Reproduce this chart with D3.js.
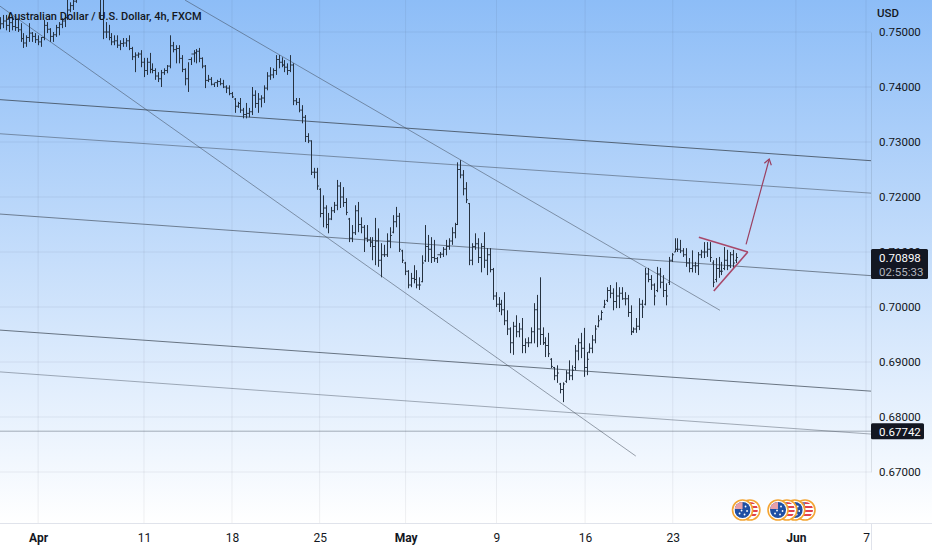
<!DOCTYPE html>
<html><head><meta charset="utf-8">
<style>html,body{margin:0;padding:0;background:#fff;overflow:hidden}svg{display:block}text{font-family:Roboto,"Open Sans",sans-serif}</style>
<script src="https://cdn.jsdelivr.net/npm/d3@7/dist/d3.min.js"></script></head>
<body><script>
// prices are in 1/10000 of a US dollar; bars are 4h slots
const barHigh=[
7527,7531,7531,7534,7527,7525,7522,7516,7498,7494,
7516,7500,7498,7494,7491,7522,7518,7507,7500,7513,
7518,7525,7531,7567,7554,7563,7572,7580,7591,7598,
7594,7587,7583,7576,7572,7562,7518,7513,7498,7494,
7494,7485,7489,7489,7494,7473,7463,7463,7467,7453,
7453,7462,7443,7434,7427,7431,7434,7440,7494,7482,
7476,7476,7458,7434,7445,7454,7467,7469,7471,7454,
7440,7422,7418,7407,7413,7416,7413,7403,7403,7391,
7380,7373,7380,7362,7371,7362,7400,7394,7389,7385,
7403,7427,7436,7434,7458,7458,7454,7449,7443,7458,
7443,7380,7380,7367,7349,7316,7303,7253,7253,7216,
7203,7185,7171,7182,7191,7231,7227,7218,7198,7162,
7149,7185,7191,7163,7149,7149,7127,7127,7162,7143,
7116,7113,7134,7145,7167,7182,7171,7104,7082,7067,
7062,7076,7067,7054,7094,7149,7131,7127,7122,7091,
7100,7109,7122,7125,7145,7153,7263,7267,7249,7227,
7189,7116,7134,7125,7116,7136,7107,7107,7071,7027,
7018,7013,7027,6994,6963,6973,6985,6971,6980,6943,
6945,6963,7007,7022,7054,6963,6945,6953,6907,6891,
6894,6862,6863,6885,6903,6894,6931,6943,6953,6962,
6918,6934,6949,6967,6985,6994,7013,7036,7040,7034,
7045,7036,7036,7027,7022,7003,6963,6980,7016,7013,
7071,7071,7058,7043,7073,7071,7058,7043,7091,7098,
7125,7125,7122,7107,7107,7089,7103,7082,7100,7104,
7118,7118,7118,7085,7089,7091,7082,7109,7104,7100,
7104,7098];
const barLow=[
7505,7507,7503,7500,7503,7502,7500,7482,7471,7473,
7482,7482,7480,7476,7473,7485,7498,7482,7482,7491,
7494,7507,7509,7522,7536,7540,7553,7562,7569,7576,
7573,7567,7563,7562,7522,7487,7489,7485,7476,7476,
7471,7467,7473,7473,7467,7449,7427,7453,7436,7418,
7422,7425,7425,7413,7409,7400,7422,7425,7434,7463,
7443,7443,7427,7403,7391,7440,7445,7443,7445,7434,
7398,7409,7403,7400,7400,7403,7398,7389,7385,7380,
7353,7362,7353,7343,7343,7345,7349,7362,7353,7363,
7371,7394,7413,7416,7422,7434,7436,7427,7422,7427,
7367,7367,7354,7334,7300,7298,7240,7234,7213,7163,
7145,7143,7134,7158,7171,7176,7180,7182,7167,7118,
7118,7131,7136,7134,7100,7118,7109,7085,7076,7073,
7054,7091,7091,7107,7134,7145,7100,7080,7058,7034,
7036,7043,7034,7031,7045,7082,7082,7080,7082,7080,
7089,7091,7094,7104,7113,7125,7149,7234,7203,7189,
7076,7076,7104,7080,7063,7071,7058,7063,7013,7000,
6991,6985,6967,6949,6916,6913,6945,6945,6916,6916,
6927,6934,6934,6927,6931,6931,6909,6909,6889,6867,
6862,6843,6827,6862,6867,6867,6885,6903,6907,6873,
6876,6916,6916,6934,6963,6976,6998,7009,7016,6994,
6998,6998,7013,7003,6982,6949,6953,6953,6958,6980,
7003,7045,7031,7003,7027,7034,7018,7003,7040,7082,
7100,7100,7098,7091,7073,7063,7063,7062,7058,7089,
7089,7091,7082,7036,7045,7053,7058,7067,7067,7071,
7071,7080];
const barOpen=[
7510,7515,7520,7512,7517,7510,7508,7504,7488,7480,
7490,7498,7492,7486,7482,7490,7512,7505,7492,7495,
7508,7514,7520,7526,7540,7548,7556,7565,7575,7585,
7582,7578,7572,7568,7568,7530,7500,7500,7490,7482,
7484,7476,7479,7480,7484,7470,7455,7458,7460,7445,
7430,7445,7432,7430,7420,7415,7426,7430,7438,7475,
7468,7470,7452,7432,7415,7450,7460,7462,7465,7452,
7438,7412,7414,7405,7408,7410,7406,7400,7398,7388,
7378,7365,7370,7358,7350,7352,7355,7385,7370,7378,
7380,7398,7420,7422,7430,7450,7445,7440,7436,7430,
7440,7375,7372,7358,7345,7310,7302,7245,7245,7214,
7170,7180,7150,7160,7175,7185,7220,7200,7190,7160,
7125,7135,7175,7150,7145,7125,7122,7118,7110,7120,
7085,7095,7095,7120,7136,7155,7165,7102,7080,7065,
7040,7052,7050,7040,7046,7084,7110,7105,7090,7088,
7095,7096,7105,7110,7120,7135,7150,7250,7240,7215,
7188,7085,7110,7115,7090,7110,7085,7095,7068,7020,
7005,7005,6995,6975,6960,6935,6965,6955,6960,6930,
6935,6935,6955,6995,6960,6950,6935,6930,6905,6890,
6875,6860,6850,6865,6880,6875,6890,6920,6935,6925,
6890,6918,6925,6940,6965,6978,7000,7012,7030,7025,
7010,7020,7025,7015,7015,6990,6955,6960,6965,7005,
7005,7060,7050,7040,7030,7060,7045,7030,7045,7085,
7100,7105,7105,7102,7095,7080,7070,7075,7075,7095,
7100,7100,7105,7080,7050,7070,7065,7070,7085,7075,
7095,7085];
const barClose=[
7515,7520,7512,7517,7510,7508,7504,7488,7480,7490,
7498,7492,7486,7482,7490,7512,7505,7492,7495,7508,
7514,7520,7526,7540,7548,7556,7565,7575,7585,7582,
7578,7572,7568,7568,7530,7500,7500,7490,7482,7484,
7476,7479,7480,7484,7470,7455,7458,7460,7445,7430,
7445,7432,7430,7420,7415,7426,7430,7438,7475,7468,
7470,7452,7432,7415,7450,7460,7462,7465,7452,7438,
7412,7414,7405,7408,7410,7406,7400,7398,7388,7382,
7365,7370,7358,7350,7352,7355,7385,7370,7378,7380,
7398,7420,7422,7430,7450,7445,7440,7436,7430,7440,
7375,7372,7358,7345,7310,7302,7245,7245,7220,7170,
7180,7150,7160,7175,7185,7220,7200,7190,7172,7125,
7135,7175,7150,7145,7125,7122,7118,7110,7120,7085,
7095,7095,7120,7130,7155,7165,7105,7085,7065,7040,
7052,7050,7040,7040,7080,7110,7105,7090,7088,7095,
7096,7105,7110,7120,7135,7150,7250,7240,7215,7195,
7085,7110,7115,7090,7110,7085,7095,7068,7020,7005,
7005,6995,6975,6960,6935,6965,6955,6960,6930,6935,
6935,6955,6995,6960,6950,6935,6930,6915,6892,6875,
6880,6850,6860,6880,6875,6885,6920,6935,6925,6890,
6905,6925,6940,6960,6975,6990,7005,7030,7025,7010,
7020,7025,7015,7015,6990,6955,6960,6965,7005,7000,
7060,7050,7040,7020,7060,7045,7030,7020,7085,7095,
7105,7105,7102,7095,7080,7070,7075,7075,7095,7100,
7100,7105,7090,7045,7070,7065,7065,7085,7075,7095,
7080,7090];

const priceTicks=[0.75,0.74,0.73,0.72,0.71,0.70,0.69,0.68,0.67];
const timeTicks=[13,49.1,79.1,109,138.3,169.3,199.5,229.4,271.4,295.3];
const timeLabels=["Apr","11","18","25","May","9","16","23","Jun","7"];
const boldTimeLabels=["Apr","May","Jun"];

// trend lines: [slot, price, slot, price]
const channelLines=[
 [0,7377,297,7266],
 [0,7315,297,7207],
 [0,7169,297,7057],
 [0,6958,297,6847],
 [0,6882,297,6769],
 [0,6774.2,297,6774.2],
 [0,7547,216.8,6729],
 [63.1,7558,245.5,6994]];
const channelOpacity=[.78,.5,.62,.72,.42,.42,.5,.5];
const triangleTop=[[238.3,7127],[255,7100]];
const triangleBottom=[[243.4,7029],[255,7100]];
const arrowPath=[[254.4,7114],[262.3,7269]];

const eventSlots=[253.2,255.7,265.3,268.3,271,274.5];
const eventKinds=["AU","US","AU","US","AU","US"];

const lastPrice=0.70898, lastLabel="0.70898", countdown="02:55:33";
const levelPrice=0.67742, levelLabel="0.67742";
const titleText="Australian Dollar / U.S. Dollar, 4h, FXCM";

const W=932,H=550,plotR=871,plotB=523;
const x=d3.scaleLinear().domain([0,297]).range([0,871]);
const y=d3.scaleLinear().domain([0.75,0.67]).range([32,472]);
const py=v=>y(v/10000);

const svg=d3.select("body").append("svg").attr("width",W).attr("height",H);
const defs=svg.append("defs");
const g=defs.append("linearGradient").attr("id","bg").attr("x1",0).attr("y1",0).attr("x2",0).attr("y2",1);
g.append("stop").attr("offset","0%").attr("stop-color","#8dbdf7");
g.append("stop").attr("offset","100%").attr("stop-color","#ffffff");
defs.append("clipPath").attr("id","plot").append("rect").attr("width",plotR).attr("height",plotB);

svg.append("rect").attr("width",W).attr("height",H).attr("fill","#fff");
svg.append("rect").attr("width",W).attr("height",plotB).attr("fill","url(#bg)");

// grid
const grid=svg.append("g");
grid.selectAll("line.h").data(priceTicks).join("line").attr("class","h")
 .attr("x1",0).attr("x2",plotR).attr("y1",d=>y(d)).attr("y2",d=>y(d))
 .attr("stroke","#2a2e39").attr("stroke-opacity",.07);
grid.selectAll("line.v").data(timeTicks).join("line").attr("class","v")
 .attr("y1",0).attr("y2",plotB).attr("x1",d=>x(d)).attr("x2",d=>x(d))
 .attr("stroke","#2a2e39").attr("stroke-opacity",.07);

const plot=svg.append("g").attr("clip-path","url(#plot)");

// channels
plot.selectAll("line.ch").data(channelLines).join("line").attr("class","ch")
 .attr("x1",d=>x(d[0])).attr("y1",d=>py(d[1])).attr("x2",d=>x(d[2])).attr("y2",d=>py(d[3]))
 .attr("stroke","#3b4653").attr("stroke-width",1).attr("stroke-opacity",(d,i)=>channelOpacity[i]);

// OHLC bars
const barGroup=plot.append("g").attr("stroke","#263240").attr("stroke-width",1);
const bars=barGroup.selectAll("g").data(barHigh.map((h,i)=>i)).join("g");
const cx=i=>Math.round(x(i))+.5;
bars.append("line").attr("x1",cx).attr("x2",cx).attr("y1",i=>py(barHigh[i])).attr("y2",i=>py(barLow[i]));
bars.append("line").attr("x1",i=>cx(i)-1.4).attr("x2",cx).attr("y1",i=>py(barOpen[i])).attr("y2",i=>py(barOpen[i]));
bars.append("line").attr("x1",cx).attr("x2",i=>cx(i)+1.4).attr("y1",i=>py(barClose[i])).attr("y2",i=>py(barClose[i]));

// drawn pattern
const lineGen=d3.line().x(d=>x(d[0])).y(d=>py(d[1]));
const maroon="#a8486a";
[triangleTop,triangleBottom].forEach(p=>plot.append("path").attr("d",lineGen(p)).attr("fill","none").attr("stroke",maroon).attr("stroke-width",1.6));
plot.append("path").attr("d",lineGen(arrowPath)).attr("fill","none").attr("stroke","#9a3f60").attr("stroke-width",1.2);
{
 const [a,b]=arrowPath, ax=x(a[0]),ay=py(a[1]),bx=x(b[0]),by=py(b[1]);
 const ang=Math.atan2(by-ay,bx-ax), s=6.5;
 const hp=[[bx+s*Math.cos(ang+2.55),by+s*Math.sin(ang+2.55)],[bx,by],[bx+s*Math.cos(ang-2.55),by+s*Math.sin(ang-2.55)]];
 plot.append("path").attr("d",d3.line()(hp)).attr("fill","none").attr("stroke","#9a3f60").attr("stroke-width",1.2);
}

// axes
const font="Roboto,'Open Sans',sans-serif";
const yAxis=d3.axisRight(y).tickValues(priceTicks).tickSize(0).tickPadding(8).tickFormat(d3.format(".5f"));
const ya=svg.append("g").attr("transform",`translate(${plotR},0)`).call(yAxis);
ya.select(".domain").attr("stroke","#2a2e39").attr("stroke-opacity",.12);
ya.selectAll("text").attr("fill","#131722").attr("font-size",11.5).attr("font-family",font);

const xAxis=d3.axisBottom(x).tickValues(timeTicks).tickSize(0).tickPadding(10).tickFormat((d,i)=>timeLabels[i]);
const xa=svg.append("g").attr("transform",`translate(0,${plotB})`).call(xAxis);
xa.select(".domain").remove();
xa.selectAll("text").attr("fill","#131722").attr("font-size",12).attr("font-family",font)
 .attr("font-weight",(d,i)=>boldTimeLabels.includes(timeLabels[i])?700:400);
svg.append("line").attr("x1",0).attr("x2",W).attr("y1",plotB+.5).attr("y2",plotB+.5).attr("stroke","#e0e3eb");
svg.append("line").attr("x1",plotR+.5).attr("x2",plotR+.5).attr("y1",plotB).attr("y2",H).attr("stroke","#e0e3eb");

// price tags
const tag=svg.append("g").attr("font-family",font);
const ly=y(lastPrice);
tag.append("rect").attr("x",plotR).attr("y",ly-8.5).attr("width",57).attr("height",30).attr("rx",1.5).attr("fill","#131722");
tag.append("text").attr("x",plotR+8).attr("y",ly+4).attr("fill","#fff").attr("font-size",11.5).text(lastLabel);
tag.append("text").attr("x",plotR+8).attr("y",ly+18).attr("fill","#b2b5be").attr("font-size",11.5).text(countdown);
const ry=y(levelPrice);
tag.append("rect").attr("x",plotR).attr("y",ry-8).attr("width",53).attr("height",16).attr("rx",1.5).attr("fill","#131722");
tag.append("text").attr("x",plotR+8).attr("y",ry+4.5).attr("fill","#fff").attr("font-size",11.5).text(levelLabel);

svg.append("text").attr("x",877).attr("y",17).attr("fill","#131722").attr("font-size",11.5).attr("font-family",font).attr("font-weight",500).text("USD");
svg.append("text").attr("x",7).attr("y",20).attr("fill","#131722").attr("font-size",11).attr("font-family",font).attr("font-weight",500).text(titleText);

// economic event badges (rightmost underneath)
const fy=510;
const evts=eventSlots.map((s,i)=>({s,k:eventKinds[i],i})).reverse();
evts.forEach(e=>{
 const id="c"+e.i, cxx=x(e.s), G=svg.append("g").attr("transform",`translate(${cxx},${fy})`);
 defs.append("clipPath").attr("id",id).append("circle").attr("r",8);
 G.append("circle").attr("r",10).attr("fill","#fff").attr("stroke","#f4a533").attr("stroke-width",1.6);
 const inner=G.append("g").attr("clip-path",`url(#${id})`);
 if(e.k==="AU"){
  inner.append("rect").attr("x",-8).attr("y",-8).attr("width",16).attr("height",16).attr("fill","#1f4fa3");
  inner.append("rect").attr("x",-8).attr("y",-8).attr("width",8).attr("height",7).attr("fill","#e8a0a8");
  [[-3,3.5],[3,-3.5],[4.5,1],[2,4.5],[-1,0.5]].forEach(p=>inner.append("circle").attr("cx",p[0]).attr("cy",p[1]).attr("r",.9).attr("fill","#fff"));
 } else {
  inner.append("rect").attr("x",-8).attr("y",-8).attr("width",16).attr("height",16).attr("fill","#fff");
  d3.range(-8,8,4).forEach(v=>inner.append("rect").attr("x",-8).attr("y",v).attr("width",16).attr("height",2).attr("fill","#e0424e"));
  inner.append("rect").attr("x",-8).attr("y",-8).attr("width",8).attr("height",8).attr("fill","#6d80b8");
 }
});
</script></body></html>
